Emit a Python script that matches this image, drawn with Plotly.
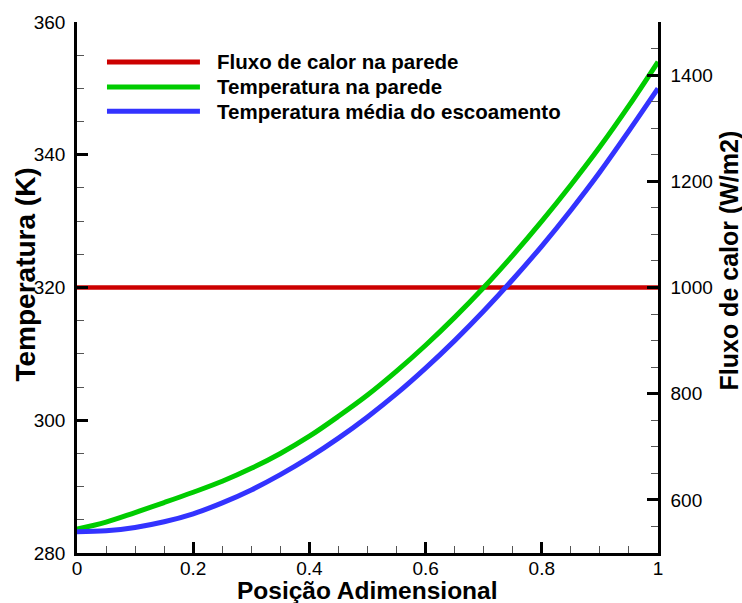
import plotly.graph_objects as go

# Dimensionless position along the duct
posicao = [0.00, 0.05, 0.10, 0.15, 0.20, 0.25, 0.30, 0.35, 0.40, 0.45, 0.50,
           0.55, 0.60, 0.65, 0.70, 0.75, 0.80, 0.85, 0.90, 0.95, 1.00]

# Wall temperature (K)
temp_parede = [283.6, 284.65, 286.1, 287.6, 289.15, 290.8, 292.75, 295.0, 297.6, 300.6, 303.8,
               307.4, 311.3, 315.5, 320.0, 324.85, 330.0, 335.45, 341.2, 347.4, 354.0]

# Bulk (mean) flow temperature (K)
temp_media = [283.2, 283.35, 283.85, 284.7, 285.9, 287.55, 289.5, 291.8, 294.4, 297.3, 300.5,
              304.0, 307.85, 312.0, 316.45, 321.2, 326.25, 331.65, 337.4, 343.6, 350.0]

# Uniform wall heat flux (W/m2)
fluxo_x = [0.0, 1.0]
fluxo = [1000, 1000]

# Legend entries: label and colour
legenda_nomes = ["Fluxo de calor na parede", "Temperatura na parede",
                 "Temperatura média do escoamento"]
legenda_cores = ["#CC0000", "#00CC00", "#3333FF"]

FONT = "Liberation Sans, Arial, Helvetica, sans-serif"

fig = go.Figure()
fig.add_trace(go.Scatter(x=fluxo_x, y=fluxo, yaxis="y", mode="lines",
                         name=legenda_nomes[0], showlegend=False,
                         line=dict(color=legenda_cores[0], width=4.5)))
fig.add_trace(go.Scatter(x=posicao, y=temp_parede, yaxis="y2", mode="lines",
                         name=legenda_nomes[1], showlegend=False,
                         line=dict(color=legenda_cores[1], width=5, shape="spline")))
fig.add_trace(go.Scatter(x=posicao, y=temp_media, yaxis="y2", mode="lines",
                         name=legenda_nomes[2], showlegend=False,
                         line=dict(color=legenda_cores[2], width=5, shape="spline")))

# Legend drawn as keys in paper coordinates
leg_y = [0.9248, 0.8777, 0.8320]
for nome, cor, yy in zip(legenda_nomes, legenda_cores, leg_y):
    fig.add_shape(type="line", xref="paper", yref="paper",
                  x0=0.0516, x1=0.2116, y0=yy, y1=yy,
                  line=dict(color=cor, width=5))
    fig.add_annotation(xref="paper", yref="paper", x=0.2374, y=yy,
                       xanchor="left", yanchor="middle", showarrow=False,
                       text=nome, font=dict(family=FONT, size=20.5, color="black", weight="bold"))

axis_common = dict(
    ticks="inside", ticklen=11, tickwidth=2.5, tickcolor="#000000",
    showline=True, linewidth=2.5, linecolor="#000000", layer="above traces",
    showgrid=False, zeroline=False, automargin=False,
    tickfont=dict(family=FONT, size=19, color="black"),
)
minor_common = dict(ticks="inside", ticklen=7, tickwidth=1, tickcolor="#555555")

fig.update_layout(
    width=742, height=603,
    margin=dict(l=77, r=84, t=22, b=50),
    paper_bgcolor="white", plot_bgcolor="rgba(0,0,0,0)",
    font=dict(family=FONT, color="black"),
    showlegend=False,
    xaxis=dict(range=[0, 1], tickmode="linear", tick0=0, dtick=0.2, **axis_common,
               ticklabelstandoff=-4, minor=dict(dtick=0.05, **minor_common)),
    yaxis=dict(side="right", range=[500, 1500], tickmode="linear", tick0=600, dtick=200,
               **axis_common, ticklabelstandoff=6, minor=dict(dtick=50, **minor_common)),
    yaxis2=dict(side="left", overlaying="y", range=[280, 360], tickmode="linear", tick0=280, dtick=20,
                **axis_common, ticklabelstandoff=5, minor=dict(dtick=5, **minor_common)),
)

# Axis titles
fig.add_annotation(xref="paper", yref="paper", x=0.5, y=0, yshift=-37,
                   xanchor="center", yanchor="middle", showarrow=False,
                   text="Posição Adimensional",
                   font=dict(family=FONT, size=24.5, color="black", weight="bold"))
fig.add_annotation(xref="paper", yref="paper", x=0, y=0.5, xshift=-52, yshift=13,
                   xanchor="center", yanchor="middle", showarrow=False, textangle=-90,
                   text="Temperatura (K)",
                   font=dict(family=FONT, size=28, color="black", weight="bold"))
fig.add_annotation(xref="paper", yref="paper", x=1, y=0.5, xshift=70, yshift=27,
                   xanchor="center", yanchor="middle", showarrow=False, textangle=-90,
                   text="Fluxo de calor (W/m2)",
                   font=dict(family=FONT, size=25, color="black", weight="bold"))

fig.write_html("out.html")
